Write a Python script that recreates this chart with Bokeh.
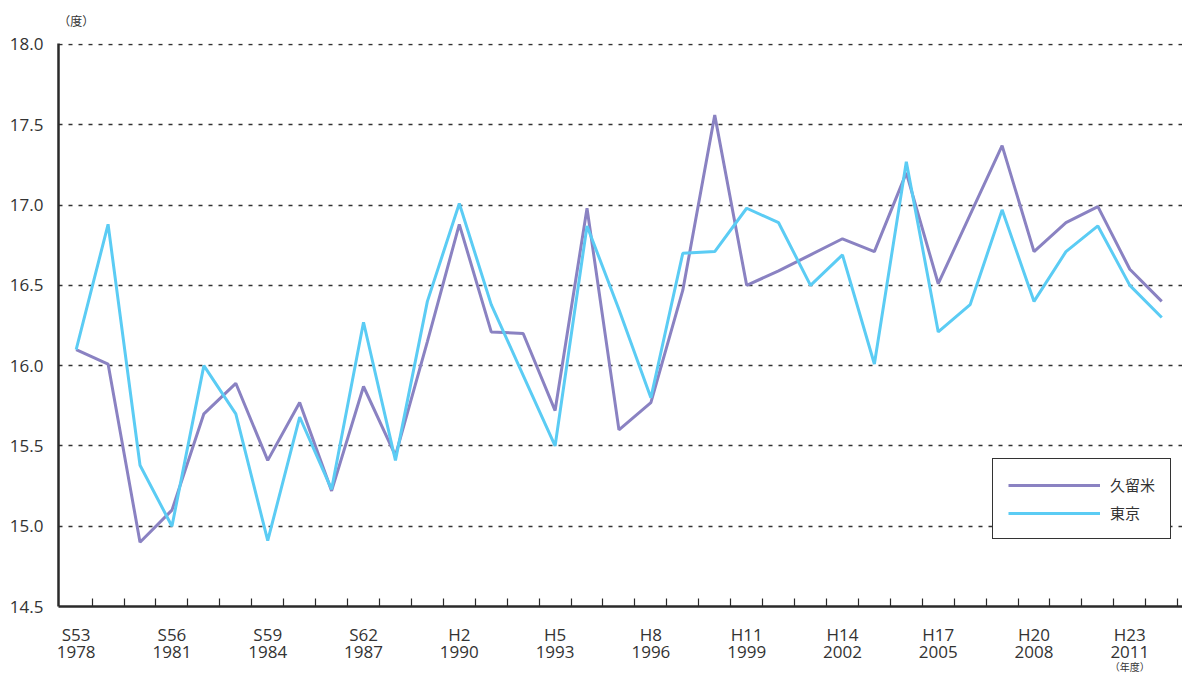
from bokeh.plotting import figure
from bokeh.models import (Range1d, FixedTicker, LinearAxis, PrintfTickFormatter,
                          Legend, LegendItem)
from bokeh.embed import file_html
from bokeh.resources import INLINE

# ---- data ----
years = list(range(1978, 2013))
kurume = [16.10, 16.01, 14.90, 15.10, 15.70, 15.89, 15.41, 15.77, 15.22, 15.87,
          15.44, 16.15, 16.88, 16.21, 16.20, 15.72, 16.98, 15.60, 15.77, 16.47,
          17.56, 16.50, 16.59, 16.69, 16.79, 16.71, 17.20, 16.51, 16.94, 17.37,
          16.71, 16.89, 16.99, 16.60, 16.40]
tokyo = [16.10, 16.88, 15.38, 15.00, 16.00, 15.70, 14.91, 15.68, 15.23, 16.27,
         15.41, 16.40, 17.01, 16.38, 15.94, 15.50, 16.87, 16.35, 15.80, 16.70,
         16.71, 16.98, 16.89, 16.50, 16.69, 16.01, 17.27, 16.21, 16.38, 16.97,
         16.40, 16.71, 16.87, 16.50, 16.30]
label_years = [1978, 1981, 1984, 1987, 1990, 1993, 1996, 1999, 2002, 2005, 2008, 2011]
era_labels = ["S53", "S56", "S59", "S62", "H2", "H5", "H8", "H11", "H14", "H17", "H20", "H23"]
y_ticks = [14.5, 15.0, 15.5, 16.0, 16.5, 17.0, 17.5, 18.0]
series_names = ["久留米", "東京"]
y_unit = "（度）"
x_unit = "（年度）"

PURPLE = "#8A82C2"
CYAN = "#5BCCF4"
TXT = "#333333"
AX = "#2a2a2a"
NUMFONT = "Open Sans"
JPFONT = "Noto Sans CJK JP"

p = figure(width=1182, height=676, output_backend="svg", toolbar_location=None,
           x_range=Range1d(1977.447, 2012.65), y_range=Range1d(14.5, 18.006),
           min_border_left=58, min_border_right=0, min_border_top=43, min_border_bottom=69)
p.outline_line_color = None
p.background_fill_color = "white"
p.border_fill_color = "white"

# grid
p.xgrid.visible = False
p.ygrid.ticker = FixedTicker(ticks=y_ticks)
p.ygrid.grid_line_color = "#333333"
p.ygrid.grid_line_dash = "4 6"
p.ygrid.grid_line_width = 1.3

# y axis
ya = p.yaxis[0]
ya.ticker = FixedTicker(ticks=y_ticks)
ya.formatter = PrintfTickFormatter(format="%.1f")
ya.major_tick_in = 0
ya.major_tick_out = 0
ya.minor_tick_line_color = None
ya.axis_line_width = 2.5
ya.axis_line_color = AX
ya.major_label_standoff = 15
ya.major_label_text_font = NUMFONT
ya.major_label_text_font_size = "17px"
ya.major_label_text_color = TXT

# main x axis: era labels at centres, boundary ticks as minor ticks
xa = p.xaxis[0]
xa.ticker = FixedTicker(ticks=label_years, minor_ticks=[y + 0.5 for y in years])
xa.major_label_overrides = {yv: t for yv, t in zip(label_years, era_labels)}
xa.major_tick_line_color = None
xa.major_tick_in = 0
xa.major_tick_out = 0
xa.minor_tick_in = 8
xa.minor_tick_out = 0
xa.minor_tick_line_color = AX
xa.minor_tick_line_width = 1.2
xa.axis_line_width = 2.5
xa.axis_line_color = AX
xa.major_label_standoff = 16
xa.major_label_text_font = NUMFONT
xa.major_label_text_font_size = "17px"
xa.major_label_text_color = TXT

def label_axis(ticks, labels, standoff, font, size):
    ax = LinearAxis(ticker=FixedTicker(ticks=ticks),
                    major_label_overrides={yv: t for yv, t in zip(ticks, labels)})
    ax.axis_line_color = None
    ax.major_tick_line_color = None
    ax.minor_tick_line_color = None
    ax.major_tick_in = 0
    ax.major_tick_out = 0
    ax.major_label_standoff = standoff
    ax.major_label_text_font = font
    ax.major_label_text_font_size = size
    ax.major_label_text_color = TXT
    return ax

p.add_layout(label_axis(label_years, [str(y) for y in label_years], -3, NUMFONT, "17px"), "below")
p.add_layout(label_axis([label_years[-1]], [x_unit], -2, JPFONT, "10px"), "below")
# unit label at top-left, as a label-only axis above the frame
p.add_layout(label_axis([years[0]], [y_unit], 15, JPFONT, "12px"), "above")

# lines
r_k = p.line(years, kurume, line_color=PURPLE, line_width=3)
r_t = p.line(years, tokyo, line_color=CYAN, line_width=3)

legend = Legend(items=[LegendItem(label=series_names[0], renderers=[r_k]),
                       LegendItem(label=series_names[1], renderers=[r_t])],
                location=(934, 67))
legend.border_line_color = "#333333"
legend.border_line_alpha = 1.0
legend.border_line_width = 1.5
legend.background_fill_color = "white"
legend.background_fill_alpha = 1.0
legend.padding = 15
legend.margin = 0
legend.spacing = 7
legend.glyph_width = 92
legend.glyph_height = 16
legend.label_height = 16
legend.label_standoff = 10
legend.label_text_font = JPFONT
legend.label_text_font_size = "15px"
legend.label_text_color = TXT
p.add_layout(legend, "center")

open("out.html", "w").write(file_html(p, INLINE))
